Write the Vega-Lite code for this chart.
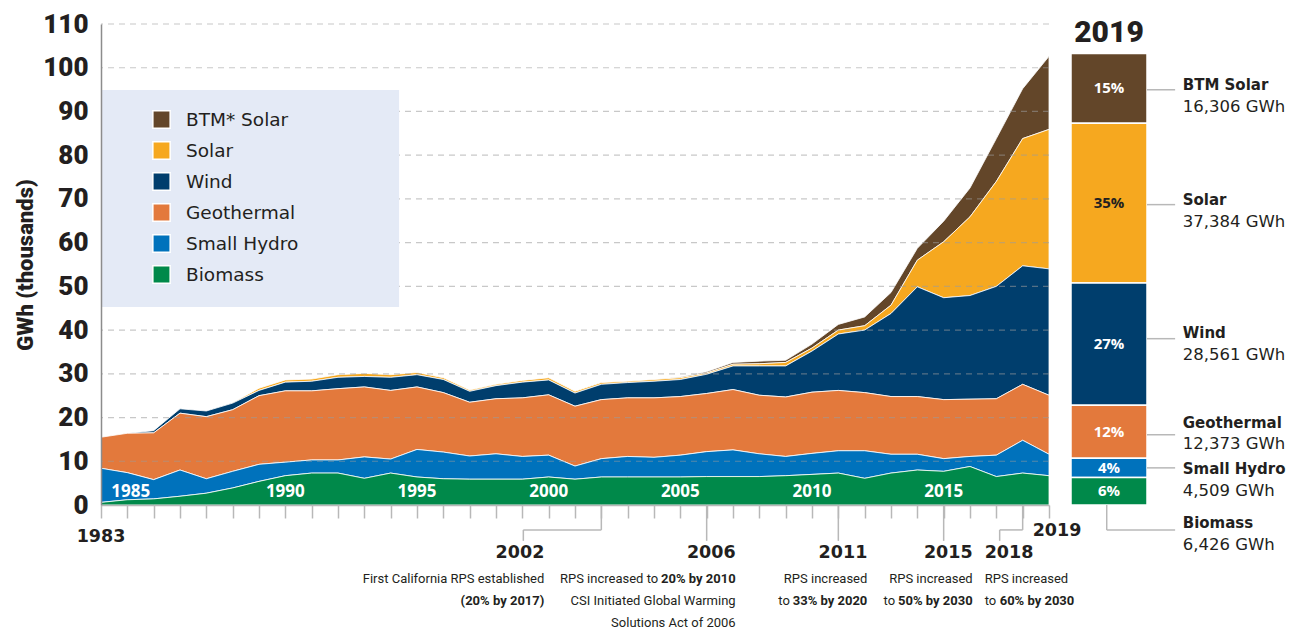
{
  "$schema": "https://vega.github.io/schema/vega-lite/v6.json",
  "padding": {"left": 14, "top": 11, "right": 5, "bottom": 0},
  "background": "white",
  "bounds": "flush",
  "spacing": 22,
  "config": {"view": {"stroke": null}, "font": "DejaVu Sans"},
  "resolve": {"scale": {"x": "independent", "y": "independent", "color": "independent"}},
  "datasets": {
    "gen": [
      {"year": 1983, "Biomass": 0.6, "SmallHydro": 7.8, "Geothermal": 7.1, "Wind": 0, "Solar": 0, "BTM": 0},
      {"year": 1984, "Biomass": 1.2, "SmallHydro": 6.2, "Geothermal": 9.0, "Wind": 0, "Solar": 0, "BTM": 0},
      {"year": 1985, "Biomass": 1.4, "SmallHydro": 4.4, "Geothermal": 10.7, "Wind": 0.5, "Solar": 0, "BTM": 0},
      {"year": 1986, "Biomass": 2.0, "SmallHydro": 6.0, "Geothermal": 13.0, "Wind": 1.0, "Solar": 0, "BTM": 0},
      {"year": 1987, "Biomass": 2.7, "SmallHydro": 3.3, "Geothermal": 14.2, "Wind": 1.3, "Solar": 0, "BTM": 0},
      {"year": 1988, "Biomass": 3.9, "SmallHydro": 3.8, "Geothermal": 14.1, "Wind": 1.5, "Solar": 0.1, "BTM": 0},
      {"year": 1989, "Biomass": 5.4, "SmallHydro": 3.9, "Geothermal": 15.7, "Wind": 1.2, "Solar": 0.5, "BTM": 0},
      {"year": 1990, "Biomass": 6.7, "SmallHydro": 3.1, "Geothermal": 16.3, "Wind": 2.0, "Solar": 0.5, "BTM": 0},
      {"year": 1991, "Biomass": 7.3, "SmallHydro": 3.0, "Geothermal": 15.8, "Wind": 2.2, "Solar": 0.5, "BTM": 0},
      {"year": 1992, "Biomass": 7.3, "SmallHydro": 3.0, "Geothermal": 16.3, "Wind": 2.6, "Solar": 0.6, "BTM": 0},
      {"year": 1993, "Biomass": 6.1, "SmallHydro": 4.9, "Geothermal": 16.0, "Wind": 2.4, "Solar": 0.7, "BTM": 0},
      {"year": 1994, "Biomass": 7.3, "SmallHydro": 3.2, "Geothermal": 15.7, "Wind": 3.0, "Solar": 0.6, "BTM": 0},
      {"year": 1995, "Biomass": 6.4, "SmallHydro": 6.3, "Geothermal": 14.3, "Wind": 2.8, "Solar": 0.5, "BTM": 0},
      {"year": 1996, "Biomass": 6.0, "SmallHydro": 6.1, "Geothermal": 13.6, "Wind": 3.0, "Solar": 0.4, "BTM": 0},
      {"year": 1997, "Biomass": 5.9, "SmallHydro": 5.3, "Geothermal": 12.3, "Wind": 2.5, "Solar": 0.3, "BTM": 0},
      {"year": 1998, "Biomass": 5.9, "SmallHydro": 5.8, "Geothermal": 12.6, "Wind": 3.0, "Solar": 0.3, "BTM": 0},
      {"year": 1999, "Biomass": 5.9, "SmallHydro": 5.2, "Geothermal": 13.4, "Wind": 3.6, "Solar": 0.4, "BTM": 0},
      {"year": 2000, "Biomass": 6.4, "SmallHydro": 5.0, "Geothermal": 13.8, "Wind": 3.4, "Solar": 0.5, "BTM": 0},
      {"year": 2001, "Biomass": 5.9, "SmallHydro": 3.0, "Geothermal": 13.7, "Wind": 3.0, "Solar": 0.4, "BTM": 0},
      {"year": 2002, "Biomass": 6.4, "SmallHydro": 4.2, "Geothermal": 13.5, "Wind": 3.5, "Solar": 0.4, "BTM": 0},
      {"year": 2003, "Biomass": 6.4, "SmallHydro": 4.7, "Geothermal": 13.4, "Wind": 3.5, "Solar": 0.3, "BTM": 0},
      {"year": 2004, "Biomass": 6.4, "SmallHydro": 4.5, "Geothermal": 13.6, "Wind": 3.8, "Solar": 0.4, "BTM": 0},
      {"year": 2005, "Biomass": 6.4, "SmallHydro": 5.0, "Geothermal": 13.4, "Wind": 3.9, "Solar": 0.4, "BTM": 0.2},
      {"year": 2006, "Biomass": 6.5, "SmallHydro": 5.7, "Geothermal": 13.3, "Wind": 4.4, "Solar": 0.3, "BTM": 0.3},
      {"year": 2007, "Biomass": 6.5, "SmallHydro": 6.1, "Geothermal": 13.8, "Wind": 5.4, "Solar": 0.4, "BTM": 0.4},
      {"year": 2008, "Biomass": 6.5, "SmallHydro": 5.2, "Geothermal": 13.4, "Wind": 6.7, "Solar": 0.5, "BTM": 0.6},
      {"year": 2009, "Biomass": 6.7, "SmallHydro": 4.4, "Geothermal": 13.6, "Wind": 7.1, "Solar": 0.8, "BTM": 0.5},
      {"year": 2010, "Biomass": 7.0, "SmallHydro": 4.8, "Geothermal": 14.0, "Wind": 9.4, "Solar": 0.7, "BTM": 0.9},
      {"year": 2011, "Biomass": 7.3, "SmallHydro": 5.1, "Geothermal": 13.8, "Wind": 12.9, "Solar": 0.9, "BTM": 1.3},
      {"year": 2012, "Biomass": 6.1, "SmallHydro": 6.3, "Geothermal": 13.3, "Wind": 14.3, "Solar": 1.0, "BTM": 2.0},
      {"year": 2013, "Biomass": 7.3, "SmallHydro": 4.3, "Geothermal": 13.2, "Wind": 19.0, "Solar": 1.9, "BTM": 2.9},
      {"year": 2014, "Biomass": 8.0, "SmallHydro": 3.6, "Geothermal": 13.2, "Wind": 25.1, "Solar": 6.1, "BTM": 2.7},
      {"year": 2015, "Biomass": 7.7, "SmallHydro": 2.9, "Geothermal": 13.5, "Wind": 23.3, "Solar": 12.8, "BTM": 4.7},
      {"year": 2016, "Biomass": 8.8, "SmallHydro": 2.3, "Geothermal": 13.1, "Wind": 23.7, "Solar": 18.0, "BTM": 6.6},
      {"year": 2017, "Biomass": 6.5, "SmallHydro": 4.9, "Geothermal": 12.9, "Wind": 25.7, "Solar": 24.0, "BTM": 9.8},
      {"year": 2018, "Biomass": 7.3, "SmallHydro": 7.5, "Geothermal": 12.8, "Wind": 27.1, "Solar": 29.1, "BTM": 11.4},
      {"year": 2019, "Biomass": 6.7, "SmallHydro": 4.9, "Geothermal": 13.5, "Wind": 28.9, "Solar": 31.9, "BTM": 16.7}
    ],
    "bar": [
      {"series": "BTM", "name": "BTM Solar", "value": 16306},
      {"series": "Solar", "name": "Solar", "value": 37384},
      {"series": "Wind", "name": "Wind", "value": 28561},
      {"series": "Geothermal", "name": "Geothermal", "value": 12373},
      {"series": "SmallHydro", "name": "Small Hydro", "value": 4509},
      {"series": "Biomass", "name": "Biomass", "value": 6426}
    ],
    "grid": [
      {"value": 10}, {"value": 20}, {"value": 30}, {"value": 40}, {"value": 50}, {"value": 60},
      {"value": 70}, {"value": 80}, {"value": 90}, {"value": 100}, {"value": 110}
    ],
    "decades": [
      {"year": 1985}, {"year": 1990}, {"year": 1995}, {"year": 2000}, {"year": 2005}, {"year": 2010}, {"year": 2015}
    ],
    "events": [
      {"year": 2002}, {"year": 2006}, {"year": 2011}, {"year": 2015}, {"year": 2018}
    ],
    "notes": [
      {"year": 2002, "line": 1, "kind": "reg", "text": "First California RPS established"},
      {"year": 2002, "line": 2, "kind": "bold", "text": "(20% by 2017)"},
      {"year": 2006, "line": 1, "kind": "pre", "text": "RPS increased to"},
      {"year": 2006, "line": 1, "kind": "bold", "text": "20% by 2010"},
      {"year": 2006, "line": 2, "kind": "reg", "text": "CSI Initiated Global Warming"},
      {"year": 2006, "line": 3, "kind": "reg", "text": "Solutions Act of 2006"},
      {"year": 2011, "line": 1, "kind": "reg", "text": "RPS increased"},
      {"year": 2011, "line": 2, "kind": "pre", "text": "to"},
      {"year": 2011, "line": 2, "kind": "bold", "text": "33% by 2020"},
      {"year": 2015, "line": 1, "kind": "reg", "text": "RPS increased"},
      {"year": 2015, "line": 2, "kind": "pre", "text": "to"},
      {"year": 2015, "line": 2, "kind": "bold", "text": "50% by 2030"},
      {"year": 2018, "line": 1, "kind": "reg", "text": "RPS increased"},
      {"year": 2018, "line": 2, "kind": "pre", "text": "to"},
      {"year": 2018, "line": 2, "kind": "bold", "text": "60% by 2030"}
    ]
  },
  "hconcat": [
    {
      "width": 948,
      "height": 481,
      "resolve": {"scale": {"y": "independent"}, "axis": {"y": "independent"}},
      "layer": [
        {
          "layer": [
            {
              "data": {"name": "gen"},
              "transform": [
                {"fold": ["BTM", "Solar", "Wind", "Geothermal", "SmallHydro", "Biomass"], "as": ["series", "value"]},
                {"calculate": "indexof(['Biomass','SmallHydro','Geothermal','Wind','Solar','BTM'], datum.series)", "as": "k"}
              ],
              "mark": {"type": "area", "stroke": "white", "strokeWidth": 0.8, "strokeJoin": "round"},
              "encoding": {
                "x": {
                  "field": "year", "type": "quantitative",
                  "scale": {"domain": [1983, 2019], "nice": false, "zero": false},
                  "axis": {"tickCount": 36, "labels": false, "grid": false, "ticks": true, "tickSize": 13, "tickColor": "#b8b8b8", "tickWidth": 1.5, "domainColor": "#b8b8b8", "domainWidth": 1.5, "title": null, "zindex": 1}
                },
                "y": {
                  "field": "value", "type": "quantitative", "stack": "zero",
                  "title": "GWh (thousands)",
                  "scale": {"domain": [0, 110], "nice": false},
                  "axis": {"values": [0, 10, 20, 30, 40, 50, 60, 70, 80, 90, 100, 110], "grid": false, "ticks": false, "domainColor": "#8c8c8c", "domainWidth": 1.5, "labelFont": "Roboto", "labelFontWeight": 900, "labelFontSize": 26, "labelColor": "#231f20", "labelPadding": 13, "title": "GWh (thousands)", "titleFont": "Roboto", "titleFontWeight": 900, "titleFontSize": 22, "titleColor": "#231f20", "titlePadding": 5, "zindex": 1}
                },
                "color": {
                  "field": "series", "type": "nominal",
                  "scale": {"domain": ["BTM", "Solar", "Wind", "Geothermal", "SmallHydro", "Biomass"], "range": ["#634629", "#f6a81f", "#003e6d", "#e3793c", "#0072bc", "#00894a"]},
                  "legend": {"orient": "none", "legendX": 51, "legendY": 86, "title": null, "symbolType": "square", "symbolSize": 300, "symbolStrokeColor": "white", "symbolStrokeWidth": 1.5, "symbolOpacity": 1, "labelFont": "DejaVu Sans", "labelFontSize": 18.5, "labelColor": "#231f20", "labelOffset": 15, "rowPadding": 6, "padding": 0,
                    "labelExpr": "datum.label == 'BTM' ? 'BTM* Solar' : datum.label == 'SmallHydro' ? 'Small Hydro' : datum.label"}
                },
                "order": {"field": "k", "type": "quantitative", "sort": "ascending"}
              }
            },
            {
              "data": {"name": "grid"},
              "mark": {"type": "rule", "strokeDash": [6, 5], "color": "#9a9a9a", "opacity": 0.55, "strokeWidth": 1.2},
              "encoding": {"y": {"field": "value", "type": "quantitative"}}
            },
            {
              "data": {"values": [{"box": "legend"}]},
              "mark": {"type": "rect", "color": "#e4eaf6"},
              "encoding": {"x": {"datum": 1983}, "x2": {"datum": 1994.32}, "y": {"datum": 45.3}, "y2": {"datum": 94.9}}
            },
            {
              "data": {"name": "decades"},
              "transform": [{"filter": "datum.year == 1985"}],
              "mark": {"type": "text", "font": "Open Sans", "fontWeight": "bold", "fontSize": 17, "color": "white", "baseline": "middle", "dx": -23},
              "encoding": {"x": {"field": "year", "type": "quantitative"}, "y": {"datum": 3}, "text": {"field": "year", "type": "nominal"}}
            },
            {
              "data": {"name": "decades"},
              "transform": [{"filter": "datum.year != 1985"}],
              "mark": {"type": "text", "font": "Open Sans", "fontWeight": "bold", "fontSize": 17, "color": "white", "baseline": "middle"},
              "encoding": {"x": {"field": "year", "type": "quantitative"}, "y": {"datum": 3}, "text": {"field": "year", "type": "nominal"}}
            },
            {
              "data": {"name": "events"},
              "transform": [{"filter": "datum.year == 2006 || datum.year == 2011 || datum.year == 2015"}],
              "mark": {"type": "rule", "color": "#b8b8b8", "strokeWidth": 1.5},
              "encoding": {"x": {"field": "year", "type": "quantitative"}, "y": {"datum": 0}, "y2": {"datum": -8.2}}
            },
            {
              "data": {"name": "events"},
              "transform": [{"filter": "datum.year == 2002 || datum.year == 2018"}],
              "mark": {"type": "rule", "color": "#b8b8b8", "strokeWidth": 1.5},
              "encoding": {"x": {"field": "year", "type": "quantitative"}, "y": {"datum": 0}, "y2": {"datum": -5.7}}
            },
            {
              "data": {"name": "events"},
              "transform": [{"filter": "datum.year == 2002"}],
              "mark": {"type": "rule", "color": "#b8b8b8", "strokeWidth": 1.5, "x2Offset": -78},
              "encoding": {"x": {"field": "year", "type": "quantitative"}, "x2": {"field": "year"}, "y": {"datum": -5.7}}
            },
            {
              "data": {"name": "events"},
              "transform": [{"filter": "datum.year == 2002"}],
              "mark": {"type": "rule", "color": "#b8b8b8", "strokeWidth": 1.5, "xOffset": -78},
              "encoding": {"x": {"field": "year", "type": "quantitative"}, "y": {"datum": -5.7}, "y2": {"datum": -8.2}}
            },
            {
              "data": {"name": "events"},
              "transform": [{"filter": "datum.year == 2018"}],
              "mark": {"type": "rule", "color": "#b8b8b8", "strokeWidth": 1.5, "x2Offset": -23},
              "encoding": {"x": {"field": "year", "type": "quantitative"}, "x2": {"field": "year"}, "y": {"datum": -5.7}}
            },
            {
              "data": {"name": "events"},
              "transform": [{"filter": "datum.year == 2018"}],
              "mark": {"type": "rule", "color": "#b8b8b8", "strokeWidth": 1.5, "xOffset": -23},
              "encoding": {"x": {"field": "year", "type": "quantitative"}, "y": {"datum": -5.7}, "y2": {"datum": -8.2}}
            },
            {
              "data": {"name": "events"},
              "transform": [{"filter": "datum.year == 2006 || datum.year == 2011 || datum.year == 2015"}],
              "mark": {"type": "text", "font": "DejaVu Sans", "fontWeight": "bold", "fontSize": 17.5, "color": "#231f20", "align": "right", "baseline": "middle", "dx": 29},
              "encoding": {"x": {"field": "year", "type": "quantitative"}, "y": {"datum": -10.98}, "text": {"field": "year", "type": "nominal"}}
            },
            {
              "data": {"name": "events"},
              "transform": [{"filter": "datum.year == 2002"}],
              "mark": {"type": "text", "font": "DejaVu Sans", "fontWeight": "bold", "fontSize": 17.5, "color": "#231f20", "align": "right", "baseline": "middle", "dx": -57},
              "encoding": {"x": {"field": "year", "type": "quantitative"}, "y": {"datum": -10.98}, "text": {"field": "year", "type": "nominal"}}
            },
            {
              "data": {"name": "events"},
              "transform": [{"filter": "datum.year == 2018"}],
              "mark": {"type": "text", "font": "DejaVu Sans", "fontWeight": "bold", "fontSize": 17.5, "color": "#231f20", "align": "left", "baseline": "middle", "dx": -38},
              "encoding": {"x": {"field": "year", "type": "quantitative"}, "y": {"datum": -10.98}, "text": {"field": "year", "type": "nominal"}}
            },
            {
              "data": {"values": [{"year": 1983}]},
              "mark": {"type": "text", "font": "DejaVu Sans", "fontWeight": "bold", "fontSize": 17.5, "color": "#231f20", "align": "center", "baseline": "middle"},
              "encoding": {"x": {"field": "year", "type": "quantitative"}, "y": {"datum": -7.3}, "text": {"field": "year", "type": "nominal"}}
            },
            {
              "data": {"values": [{"year": 2019}]},
              "mark": {"type": "text", "font": "DejaVu Sans", "fontWeight": "bold", "fontSize": 17.5, "color": "#231f20", "align": "center", "baseline": "middle", "dx": 8},
              "encoding": {"x": {"field": "year", "type": "quantitative"}, "y": {"datum": -5.95}, "text": {"field": "year", "type": "nominal"}}
            }
          ]
        },
        {
          "data": {"name": "notes"},
          "layer": [
            {
              "transform": [{"filter": "(datum.year == 2006 || datum.year == 2011 || datum.year == 2015) && datum.kind == 'reg'"}],
              "mark": {"type": "text", "font": "Roboto", "fontSize": 13, "color": "#231f20", "align": "right", "baseline": "middle", "dx": 29},
              "encoding": {"x": {"field": "year", "type": "quantitative"}, "y": {"field": "line", "type": "quantitative", "scale": {"domain": [1, 3], "range": [555, 599]}, "axis": null}, "text": {"field": "text"}}
            },
            {
              "transform": [{"filter": "(datum.year == 2006 || datum.year == 2011 || datum.year == 2015) && datum.kind == 'bold'"}],
              "mark": {"type": "text", "font": "Roboto", "fontWeight": "bold", "fontSize": 13, "color": "#231f20", "align": "right", "baseline": "middle", "dx": 29},
              "encoding": {"x": {"field": "year", "type": "quantitative"}, "y": {"field": "line", "type": "quantitative", "scale": {"domain": [1, 3], "range": [555, 599]}, "axis": null}, "text": {"field": "text"}}
            },
            {
              "transform": [{"filter": "(datum.year == 2006 || datum.year == 2011 || datum.year == 2015) && datum.kind == 'pre'"}],
              "mark": {"type": "text", "font": "Roboto", "fontSize": 13, "color": "#231f20", "align": "right", "baseline": "middle", "dx": -48.5},
              "encoding": {"x": {"field": "year", "type": "quantitative"}, "y": {"field": "line", "type": "quantitative", "scale": {"domain": [1, 3], "range": [555, 599]}, "axis": null}, "text": {"field": "text"}}
            },
            {
              "transform": [{"filter": "datum.year == 2002 && datum.kind == 'reg'"}],
              "mark": {"type": "text", "font": "Roboto", "fontSize": 13, "color": "#231f20", "align": "right", "baseline": "middle", "dx": -57},
              "encoding": {"x": {"field": "year", "type": "quantitative"}, "y": {"field": "line", "type": "quantitative", "scale": {"domain": [1, 3], "range": [555, 599]}, "axis": null}, "text": {"field": "text"}}
            },
            {
              "transform": [{"filter": "datum.year == 2002 && datum.kind == 'bold'"}],
              "mark": {"type": "text", "font": "Roboto", "fontWeight": "bold", "fontSize": 13, "color": "#231f20", "align": "right", "baseline": "middle", "dx": -57},
              "encoding": {"x": {"field": "year", "type": "quantitative"}, "y": {"field": "line", "type": "quantitative", "scale": {"domain": [1, 3], "range": [555, 599]}, "axis": null}, "text": {"field": "text"}}
            },
            {
              "transform": [{"filter": "datum.year == 2018 && datum.kind != 'bold'"}],
              "mark": {"type": "text", "font": "Roboto", "fontSize": 13, "color": "#231f20", "align": "left", "baseline": "middle", "dx": -38},
              "encoding": {"x": {"field": "year", "type": "quantitative"}, "y": {"field": "line", "type": "quantitative", "scale": {"domain": [1, 3], "range": [555, 599]}, "axis": null}, "text": {"field": "text"}}
            },
            {
              "transform": [{"filter": "datum.year == 2018 && datum.kind == 'bold'"}],
              "mark": {"type": "text", "font": "Roboto", "fontWeight": "bold", "fontSize": 13, "color": "#231f20", "align": "left", "baseline": "middle", "dx": -23},
              "encoding": {"x": {"field": "year", "type": "quantitative"}, "y": {"field": "line", "type": "quantitative", "scale": {"domain": [1, 3], "range": [555, 599]}, "axis": null}, "text": {"field": "text"}}
            }
          ]
        }
      ]
    },
    {
      "width": 76,
      "height": 481,
      "layer": [
        {
          "data": {"name": "bar"},
          "transform": [
            {"calculate": "indexof(['Biomass','SmallHydro','Geothermal','Wind','Solar','BTM'], datum.series)", "as": "k"},
            {"joinaggregate": [{"op": "sum", "field": "value", "as": "total"}]},
            {"stack": "value", "groupby": [], "sort": [{"field": "k", "order": "ascending"}], "as": ["v0", "v1"]},
            {"calculate": "(datum.v0 + datum.v1) / 2", "as": "mid"},
            {"calculate": "format(datum.value / datum.total, '.0%')", "as": "pct"},
            {"calculate": "format(datum.value, ',') + ' GWh'", "as": "gwh"}
          ],
          "layer": [
            {
              "mark": {"type": "rect", "stroke": "white", "strokeWidth": 1.5},
              "encoding": {
                "x": {"datum": 0, "scale": {"domain": [0, 1], "nice": false, "zero": false}, "axis": null},
                "x2": {"datum": 1},
                "y": {"field": "v0", "type": "quantitative", "scale": {"domain": [0, 112430], "nice": false}, "axis": null},
                "y2": {"field": "v1"},
                "color": {"field": "series", "type": "nominal", "scale": {"domain": ["BTM", "Solar", "Wind", "Geothermal", "SmallHydro", "Biomass"], "range": ["#634629", "#f6a81f", "#003e6d", "#e3793c", "#0072bc", "#00894a"]}, "legend": null}
              }
            },
            {
              "mark": {"type": "text", "font": "Open Sans", "fontWeight": "bold", "fontSize": 15, "baseline": "middle", "align": "center"},
              "encoding": {
                "x": {"datum": 0.5},
                "y": {"field": "mid", "type": "quantitative"},
                "text": {"field": "pct"},
                "color": {"condition": {"test": "datum.series == 'Solar'", "value": "#231f20"}, "value": "white"}
              }
            },
            {
              "transform": [{"filter": "datum.series == 'BTM' || datum.series == 'Solar'"}],
              "layer": [
                {"mark": {"type": "rule", "color": "#b8b8b8", "strokeWidth": 1.5, "yOffset": 1.5},
                 "encoding": {"x": {"datum": 1}, "x2": {"datum": 1.37}, "y": {"field": "mid", "type": "quantitative"}}},
                {"mark": {"type": "text", "font": "DejaVu Sans", "fontWeight": "bold", "fontSize": 15, "color": "#231f20", "align": "left", "baseline": "alphabetic", "dy": 2},
                 "encoding": {"x": {"datum": 1.47}, "y": {"field": "mid", "type": "quantitative"}, "text": {"field": "name"}}},
                {"mark": {"type": "text", "font": "DejaVu Sans", "fontSize": 16.5, "color": "#231f20", "align": "left", "baseline": "alphabetic", "dy": 23.5},
                 "encoding": {"x": {"datum": 1.47}, "y": {"field": "mid", "type": "quantitative"}, "text": {"field": "gwh"}}}
              ]
            },
            {
              "transform": [{"filter": "datum.series == 'Wind'"}],
              "layer": [
                {"mark": {"type": "rule", "color": "#b8b8b8", "strokeWidth": 1.5, "yOffset": -5.5},
                 "encoding": {"x": {"datum": 1}, "x2": {"datum": 1.37}, "y": {"field": "mid", "type": "quantitative"}}},
                {"mark": {"type": "text", "font": "DejaVu Sans", "fontWeight": "bold", "fontSize": 15, "color": "#231f20", "align": "left", "baseline": "alphabetic", "dy": -6},
                 "encoding": {"x": {"datum": 1.47}, "y": {"field": "mid", "type": "quantitative"}, "text": {"field": "name"}}},
                {"mark": {"type": "text", "font": "DejaVu Sans", "fontSize": 16.5, "color": "#231f20", "align": "left", "baseline": "alphabetic", "dy": 16},
                 "encoding": {"x": {"datum": 1.47}, "y": {"field": "mid", "type": "quantitative"}, "text": {"field": "gwh"}}}
              ]
            },
            {
              "transform": [{"filter": "datum.series == 'Geothermal'"}],
              "layer": [
                {"mark": {"type": "rule", "color": "#b8b8b8", "strokeWidth": 1.5, "yOffset": 3},
                 "encoding": {"x": {"datum": 1}, "x2": {"datum": 1.37}, "y": {"field": "mid", "type": "quantitative"}}},
                {"mark": {"type": "text", "font": "DejaVu Sans", "fontWeight": "bold", "fontSize": 15, "color": "#231f20", "align": "left", "baseline": "alphabetic", "dy": -3.5},
                 "encoding": {"x": {"datum": 1.47}, "y": {"field": "mid", "type": "quantitative"}, "text": {"field": "name"}}},
                {"mark": {"type": "text", "font": "DejaVu Sans", "fontSize": 16.5, "color": "#231f20", "align": "left", "baseline": "alphabetic", "dy": 17},
                 "encoding": {"x": {"datum": 1.47}, "y": {"field": "mid", "type": "quantitative"}, "text": {"field": "gwh"}}}
              ]
            },
            {
              "transform": [{"filter": "datum.series == 'SmallHydro'"}],
              "layer": [
                {"mark": {"type": "rule", "color": "#b8b8b8", "strokeWidth": 1.5},
                 "encoding": {"x": {"datum": 1}, "x2": {"datum": 1.37}, "y": {"field": "mid", "type": "quantitative"}}},
                {"mark": {"type": "text", "font": "DejaVu Sans", "fontWeight": "bold", "fontSize": 15, "color": "#231f20", "align": "left", "baseline": "alphabetic", "dy": 6},
                 "encoding": {"x": {"datum": 1.47}, "y": {"field": "mid", "type": "quantitative"}, "text": {"field": "name"}}},
                {"mark": {"type": "text", "font": "DejaVu Sans", "fontSize": 16.5, "color": "#231f20", "align": "left", "baseline": "alphabetic", "dy": 28},
                 "encoding": {"x": {"datum": 1.47}, "y": {"field": "mid", "type": "quantitative"}, "text": {"field": "gwh"}}}
              ]
            },
            {
              "transform": [{"filter": "datum.series == 'Biomass'"}],
              "layer": [
                {"mark": {"type": "rule", "color": "#b8b8b8", "strokeWidth": 1.5},
                 "encoding": {"x": {"datum": 0.47}, "y": {"datum": 0}, "y2": {"datum": -5843}}},
                {"mark": {"type": "rule", "color": "#b8b8b8", "strokeWidth": 1.5},
                 "encoding": {"x": {"datum": 0.47}, "x2": {"datum": 1.37}, "y": {"datum": -5843}}},
                {"mark": {"type": "text", "font": "DejaVu Sans", "fontWeight": "bold", "fontSize": 15, "color": "#231f20", "align": "left", "baseline": "alphabetic", "dy": -1.5},
                 "encoding": {"x": {"datum": 1.47}, "y": {"datum": -5843}, "text": {"field": "name"}}},
                {"mark": {"type": "text", "font": "DejaVu Sans", "fontSize": 16.5, "color": "#231f20", "align": "left", "baseline": "alphabetic", "dy": 20.5},
                 "encoding": {"x": {"datum": 1.47}, "y": {"datum": -5843}, "text": {"field": "gwh"}}}
              ]
            }
          ]
        },
        {
          "data": {"values": [{"t": "2019"}]},
          "mark": {"type": "text", "font": "Roboto", "fontWeight": 900, "fontSize": 30, "color": "#231f20", "align": "center", "baseline": "alphabetic"},
          "encoding": {"x": {"datum": 0.5}, "y": {"datum": 108200}, "text": {"field": "t"}}
        }
      ]
    }
  ]
}
